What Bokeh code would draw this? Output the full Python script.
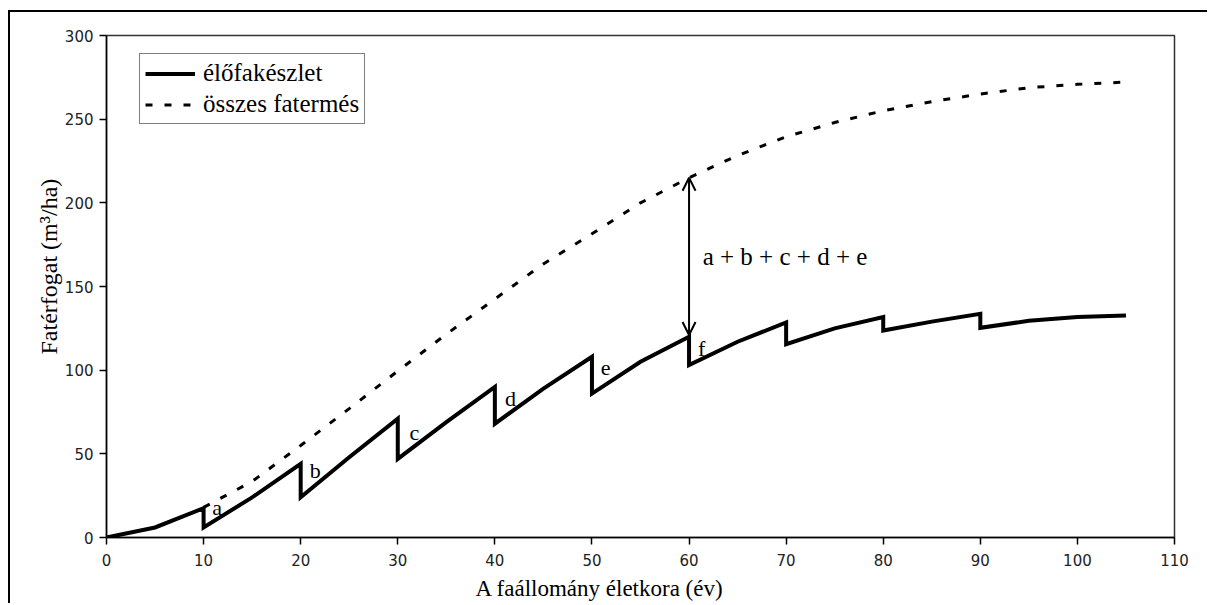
from bokeh.plotting import figure
from bokeh.models import (Range1d, FixedTicker, Label, Arrow, OpenHead, Title,
                          Legend, LegendItem, ColumnDataSource)
from bokeh.embed import file_html
from bokeh.resources import INLINE
from bokeh.core.properties import value

# ---- data ----
stand_age = [0, 5, 10, 10, 15, 20, 20, 25, 30, 30, 35, 40, 40, 45, 50, 50, 55, 60, 60,
             65, 70, 70, 75, 80, 80, 85, 90, 90, 95, 100, 105]
stand_vol = [0, 6, 17.5, 6, 24, 44, 24, 48, 71, 47, 69, 90, 68, 89, 108, 86, 105, 120, 103,
             117, 128.5, 115.5, 125, 131.7, 123.7, 129, 133.7, 125.3, 129.5, 131.8, 132.7]
total_age = [10, 15, 20, 25, 30, 35, 40, 45, 50, 55, 60, 65, 70, 75, 80, 85, 90, 95, 100, 105]
total_vol = [18, 33.5, 55, 77, 99.5, 121.5, 142.5, 163.5, 181.5, 200, 215, 228.3, 239.5,
             248, 255, 260.5, 265, 268.8, 270.8, 272.2]
cut_labels = ["a", "b", "c", "d", "e", "f"]
cut_label_x = [11.4, 21.5, 31.7, 41.6, 51.4, 61.3]
cut_label_y = [18, 40, 63, 83, 101, 113]
x_ticks = [0, 10, 20, 30, 40, 50, 60, 70, 80, 90, 100, 110]
y_ticks = [0, 50, 100, 150, 200, 250, 300]
arrow_age = 60
sum_text = "a + b + c + d + e"
x_title = "A faállomány életkora (év)"
y_title = "Fatérfogat (m³/ha)"
legend_labels = ["élőfakészlet", "összes fatermés"]

SERIF = "Liberation Serif"
SANS = "DejaVu Sans"

p = figure(width=1199, height=593, output_backend="svg", toolbar_location=None,
           x_range=Range1d(0, 110), y_range=Range1d(0, 300),
           min_border_left=96, min_border_right=35, min_border_top=23, min_border_bottom=68,
           background_fill_color="white", border_fill_color="white",
           styles={"border-left": "2px solid black", "border-top": "2px solid black",
                   "margin-left": "8px", "margin-top": "10px"})
p.grid.visible = False
p.outline_line_color = "#333333"
p.outline_line_width = 1.5

for ax in (p.xaxis[0], p.yaxis[0]):
    ax.axis_line_color = "black"
    ax.axis_line_width = 1.5
    ax.major_tick_line_color = "black"
    ax.major_tick_line_width = 1.5
    ax.major_tick_in = 0
    ax.major_tick_out = 7
    ax.minor_tick_line_color = None
    ax.major_label_text_font = SANS
    ax.major_label_text_font_size = "15px"
    ax.major_label_text_color = "#222222"
p.xaxis[0].ticker = FixedTicker(ticks=x_ticks)
p.yaxis[0].ticker = FixedTicker(ticks=y_ticks)
p.xaxis[0].major_label_standoff = 9
p.yaxis[0].major_label_standoff = 6

src_s = ColumnDataSource(dict(x=stand_age, y=stand_vol))
src_t = ColumnDataSource(dict(x=total_age, y=total_vol))
r_s = p.line("x", "y", source=src_s, line_color="black", line_width=4, line_join="miter")
r_t = p.line("x", "y", source=src_t, line_color="black", line_width=3, line_dash="7 12")

legend = Legend(items=[LegendItem(label=legend_labels[0], renderers=[r_s]),
                       LegendItem(label=legend_labels[1], renderers=[r_t])],
                location=(33, 413), margin=0, padding=5, spacing=3,
                glyph_width=50, glyph_height=27, label_height=27, label_standoff=8,
                label_text_font=SERIF, label_text_font_size="25px", label_text_color="black",
                border_line_color="black", border_line_width=1.5,
                background_fill_color="white", background_fill_alpha=1.0)
p.add_layout(legend)

# cut letters
src_l = ColumnDataSource(dict(x=cut_label_x, y=cut_label_y, t=cut_labels))
p.text("x", "y", text="t", source=src_l, text_font=value(SERIF), text_font_size="22px",
       text_align="center", text_baseline="middle", text_color="black")

# double arrow
i_top = stand_age.index(arrow_age)
y0 = stand_vol[i_top]
y1 = total_vol[total_age.index(arrow_age)]
p.add_layout(Arrow(x_start=arrow_age, y_start=y0 + 1, x_end=arrow_age, y_end=y1,
                   line_color="black", line_width=2,
                   start=OpenHead(size=13, line_width=2, line_color="black"),
                   end=OpenHead(size=13, line_width=2, line_color="black")))
p.add_layout(Label(x=arrow_age + 1.4, y=(y0 + y1) / 2 + 0.5, text=sum_text,
                   text_font=SERIF, text_font_size="25px", text_align="left",
                   text_baseline="middle", text_color="black"))

# axis titles
p.add_layout(Title(text=x_title, align="left", offset=369, standoff=10,
                   text_font=SERIF, text_font_size="23px", text_font_style="normal",
                   text_color="black"), "below")
p.add_layout(Title(text=y_title, align="left", offset=183, standoff=0,
                   text_font=SERIF, text_font_size="24px", text_font_style="normal",
                   text_color="black"), "left")

open("out.html", "w").write(file_html(p, INLINE))
